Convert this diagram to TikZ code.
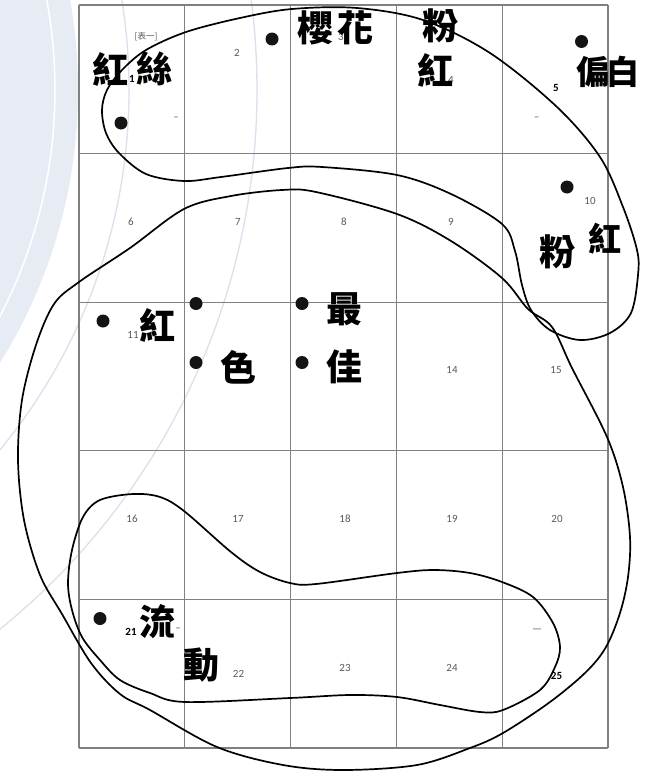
\documentclass[tikz,border=0pt]{standalone}
\usepackage{fontspec}
\setmainfont{Carlito}
\newfontfamily\cjk{Noto Sans CJK TC}
\begin{document}
\begin{tikzpicture}[x=1pt,y=-1pt,
  gridline/.style={draw={rgb,255:red,128;green,128;blue,128}, line width=1.2pt},
  curve/.style={draw=black, line width=1.7pt},
  dot/.style={circle, fill={rgb,255:red,20;green,20;blue,20}, minimum size=13pt, inner sep=0pt},
  big/.style={inner sep=0pt, font=\cjk\bfseries\fontsize{36}{36}\selectfont},
  mid/.style={inner sep=0pt, font=\cjk\bfseries\fontsize{33}{33}\selectfont},
  num/.style={inner sep=0pt, text={rgb,255:red,90;green,90;blue,90}, font=\fontsize{11}{11}\selectfont},
  bnum/.style={inner sep=0pt, text=black, font=\bfseries\fontsize{11}{11}\selectfont},
  wmfill/.style={fill={rgb,255:red,231;green,235;blue,244}},
  wmline/.style={draw={rgb,255:red,220;green,224;blue,236}, line width=1.3pt}]
\useasboundingbox (0,0) rectangle (651,771);
\fill[white] (0,0) rectangle (651,771);
% watermark
\begin{scope}
\clip (0,0) rectangle (651,771);
\fill[wmfill] (-437,90) circle[radius=515];
\draw[white, line width=1.5pt] (-437,90) circle[radius=492];
\draw[wmline] (-437,90) circle[radius=566];
\draw[wmline] (-437,90) circle[radius=694];
\end{scope}
% grid
\fill[white] (79,5) rectangle (608,748);
\begin{scope}
\clip (79,5) rectangle (608,748);
\draw[wmline] (-437,90) circle[radius=566];
\draw[wmline] (-437,90) circle[radius=694];
\end{scope}
\foreach \x in {79,184.8,290.6,396.4,502.2,608} \draw[gridline] (\x,5) -- (\x,748);
\foreach \y in {5,153.6,302.2,450.8,599.4,748} \draw[gridline] (79,\y) -- (608,\y);
% small labels
\node[num, font=\cjk\fontsize{8.5}{8.5}\selectfont] (tab) at (146,37) {[表一]};
\node[bnum] (n1) at (132,79) {1};
\node[num] (n2) at (237,53) {2};
\node[num] (n3) at (341,37) {3};
\node[num] (n4) at (451,80) {4};
\node[bnum] (n5) at (556,88) {5};
\node[num] (n6) at (131,221.5) {6};
\node[num] (n7) at (238,221.5) {7};
\node[num] (n8) at (344,221.5) {8};
\node[num] (n9) at (451,221.5) {9};
\node[num] (n10) at (590,201) {10};
\node[num] (n11) at (133,335) {11};
\node[num] (n14) at (452,370) {14};
\node[num] (n15) at (556,370) {15};
\node[num] (n16) at (132,518.5) {16};
\node[num] (n17) at (238,518.5) {17};
\node[num] (n18) at (345,518.5) {18};
\node[num] (n19) at (452,518.5) {19};
\node[num] (n20) at (557,518.5) {20};
\node[bnum] (n21) at (131,632) {21};
\node[num] (n22) at (238.5,674) {22};
\node[num] (n23) at (345,667.5) {23};
\node[num] (n24) at (452,667.5) {24};
\node[bnum] (n25) at (556.5,676) {25};
\node[num] (m1) at (176,119) {–};
\node[num] (m2) at (536.5,118.5) {–};
\node[num] (m3) at (178,630) {–};
\node[num] (m4) at (537,630.5) {—};
% curves
\draw[curve] plot[smooth cycle, tension=0.55] coordinates {
 (102,110) (107,90) (122,70) (146,50) (186,32) (240,18) (292,9) (357,8)
 (423,20) (490,53) (557,107) (600,157) (623,207) (637,250) (638,275)
 (631,313) (610,333) (580,340) (550,330) (531,310) (522,285) (515,251)
 (502,224) (451,194) (397,175) (322,167) (288,168) (221,177) (184,181)
 (146,174) (119,153) (106,133)};
\draw[curve] plot[smooth cycle, tension=0.55] coordinates {
 (79,282) (130,248) (184,209) (231,196) (282,190) (316,192) (397,214)
 (451,241) (502,278) (528,309) (552,327) (572,368) (607,437) (623,487)
 (630,537) (628,577) (620,613) (606,647) (586,672) (550,702) (503,733)
 (470,748) (417,765) (343,770) (283,765) (217,747) (150,710) (120,694)
 (91,663) (62,614) (40,575) (24,520) (18,460) (22,400) (36,345) (54,304)};
\draw[curve] plot[smooth cycle, tension=0.55] coordinates {
 (68,583) (72,550) (83,517) (100,500) (133,494) (160,497) (184,511)
 (231,552) (260,572) (290,583) (316,584) (397,573) (434,570) (470,573)
 (502,582) (533,597) (553,623) (560,647) (555,667) (540,690) (503,710)
 (480,712) (440,705) (397,697) (350,695) (290,698) (185,702) (150,693)
 (120,680) (100,660) (82,637) (72,610)};
% dots
\node[dot] (d1) at (121,123) {};
\node[dot] (d2) at (272,39) {};
\node[dot] (d3) at (581.5,41.5) {};
\node[dot] (d4) at (567,187) {};
\node[dot] (d5) at (103,321) {};
\node[dot] (d6) at (196,303.5) {};
\node[dot] (d7) at (196,362.5) {};
\node[dot] (d8) at (302,303.5) {};
\node[dot] (d9) at (302,362.5) {};
\node[dot] (d10) at (100,618.5) {};
% big text
\node[big] (t1) at (110.7,69) {紅};
\node[big] (t2) at (154.8,69) {絲};
\node[big] (t3) at (315.8,27.5) {櫻};
\node[big] (t4) at (355.8,27.5) {花};
\node[big] (t5) at (440.8,25.8) {粉};
\node[big] (t6) at (435,70.8) {紅};
\node[mid] (t7) at (593,71.7) {偏};
\node[mid] (t8) at (623,71.7) {白};
\node[big] (t9) at (557.5,251.7) {粉};
\node[mid] (t10) at (605,239) {紅};
\node[big] (t11) at (157.5,325.5) {紅};
\node[big] (t12) at (238,367) {色};
\node[big] (t13) at (344,309.5) {最};
\node[big] (t14) at (344,367) {佳};
\node[big] (t15) at (157,621.3) {流};
\node[big] (t16) at (201.5,665) {動};
\end{tikzpicture}
\end{document}
